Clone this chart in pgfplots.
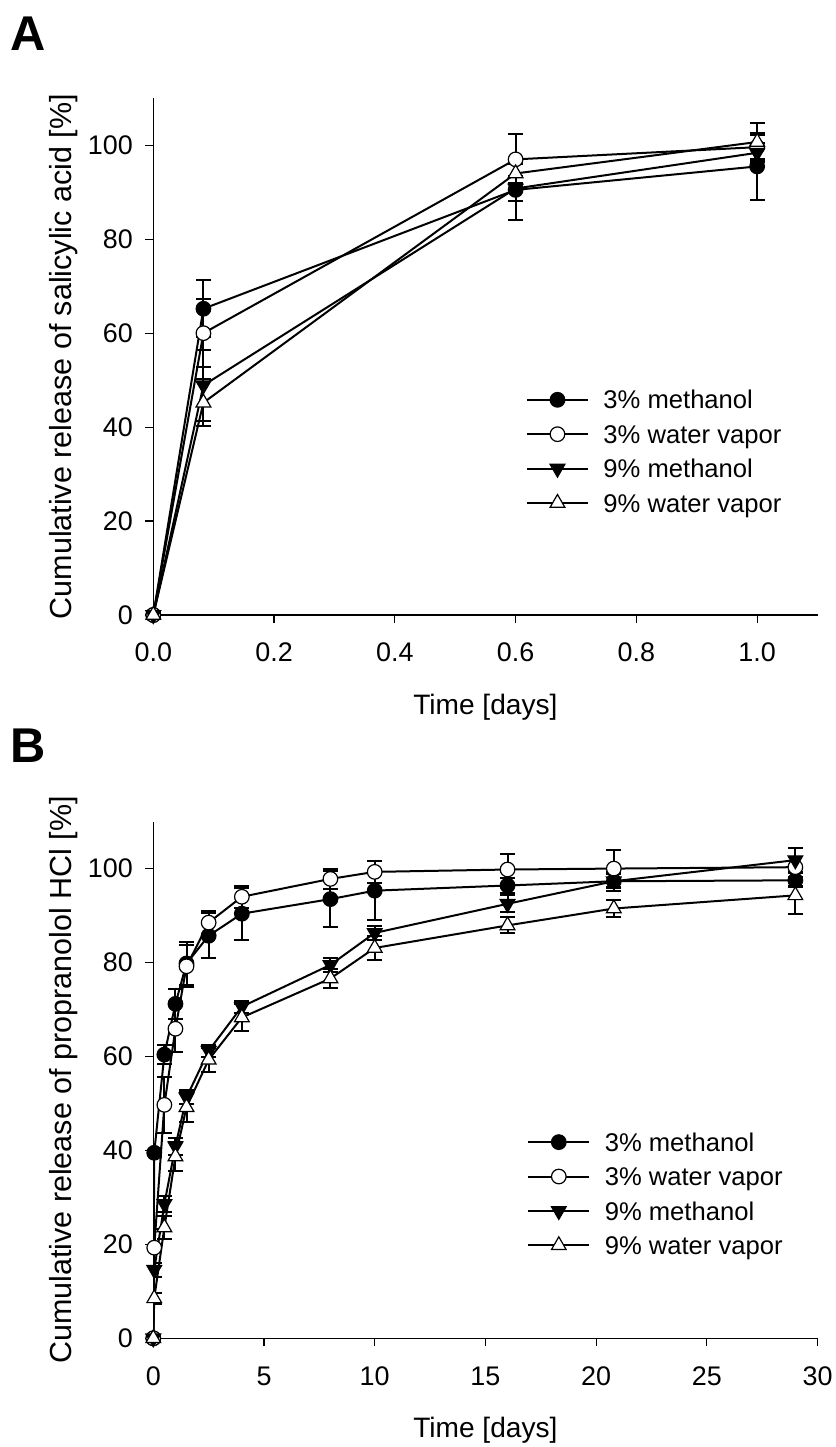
\documentclass[border=0pt]{standalone}
\usepackage{fontspec}
\setmainfont{Liberation Sans}
\usepackage{pgfplots}
\pgfplotsset{compat=1.18}
\pgfplotsset{
  panel/.style={
    scale only axis, width=664.2bp, height=516.7bp,
    ymin=0, ymax=110, xmin=0,
    axis x line*=bottom, axis y line*=left,
    axis line style={line width=1.2bp, black},
    tick align=outside, major tick length=8bp,
    every tick/.style={line width=1.2bp, black},
    ytick={0,20,40,60,80,100},
    tick label style={font=\fontsize{27}{32}\selectfont, inner sep=0pt},
    xticklabel style={yshift=-20bp},
    yticklabel style={xshift=-12.3bp},
    /pgf/number format/assume math mode=true,
    xlabel style={font=\fontsize{28.2}{33}\selectfont, at={(axis description cs:0.5,-0.178)}, anchor=center},
    ylabel style={font=\fontsize{30.6}{36}\selectfont, at={(axis description cs:-0.1344,0.5)}, anchor=center},
    legend cell align=left,
    legend image code/.code={\draw[mark repeat=2,mark phase=2] plot coordinates {(0bp,0bp)(30.5bp,0bp)(61bp,0bp)};},
    legend style={draw=none, fill=none, inner sep=0pt, outer sep=0pt, row sep=0pt,
      font=\fontsize{25.7}{30}\selectfont,
      nodes={inner sep=0pt, text height=26.4bp, text depth=8.0bp},
      /tikz/every odd column/.append style={column sep=14.5bp}},
    every axis plot/.append style={black, line width=2bp},
    error bars/y dir=both, error bars/y explicit,
    error bars/error mark=-,
    error bars/error bar style={line width=2bp, solid},
    error bars/error mark options={rotate=90, line width=2bp, mark size=7.5bp, solid},
  },
  s1/.style={mark=*, mark size=7.3bp, mark options={solid, draw=black, fill=black, line width=1.2bp}},
  s2/.style={mark=*, mark size=7.3bp, mark options={solid, draw=black, fill=white, line width=1.2bp}},
  s3/.style={mark=triangle*, mark size=8.5bp, mark options={solid, rotate=180, draw=black, fill=black, line width=1.2bp}},
  s4/.style={mark=triangle*, mark size=8.5bp, mark options={solid, draw=black, fill=white, line width=1.2bp}},
}
\begin{document}
\begin{tikzpicture}
\useasboundingbox (0,0) rectangle (836bp,-1447bp);
\node[anchor=base west, inner sep=0pt, font=\fontsize{49}{55}\selectfont\bfseries] at (10bp,-50bp) {A};
\node[anchor=base west, inner sep=0pt, font=\fontsize{49}{55}\selectfont\bfseries] at (10bp,-762bp) {B};
% Panel A
\begin{axis}[panel, at={(153.3bp,-615bp)}, anchor=south west,
  xmax=1.1, xtick={0,0.2,0.4,0.6,0.8,1.0},
  xticklabel style={/pgf/number format/fixed, /pgf/number format/fixed zerofill, /pgf/number format/precision=1},
  xlabel={Time [days]}, ylabel={Cumulative release of salicylic acid [\%]},
  legend style={at={(axis description cs:0.5611,0.4498)}, anchor=north west}]
\addplot[s1] coordinates {(0,0)+-(0,0) (0.083,65.2)+-(0,6.1) (0.6,90.5)+-(0,6.5) (1.0,95.5)+-(0,7.2)};
\addplot[s2] coordinates {(0,0)+-(0,0) (0.083,60.0)+-(0,7.3) (0.6,97.0)+-(0,5.3) (1.0,99.6)+-(0,2.5)};
\addplot[s3] coordinates {(0,0)+-(0,0) (0.083,48.9)+-(0,7.5) (0.6,90.8)+-(0,2.7) (1.0,98.4)+-(0,2.0)};
\addplot[s4] coordinates {(0,0)+-(0,0) (0.083,45.2)+-(0,5.0) (0.6,94.0)+-(0,2.0) (1.0,100.7)+-(0,4.0)};
\legend{3\% methanol, 3\% water vapor, 9\% methanol, 9\% water vapor}
\end{axis}
% Panel B
\begin{axis}[panel, at={(153.3bp,-1338.3bp)}, anchor=south west,
  xmax=30, xtick={0,5,10,15,20,25,30},
  xlabel={Time [days]}, ylabel={Cumulative release of propranolol HCl [\%]},
  legend style={at={(axis description cs:0.5631,0.4130)}, anchor=north west}]
\addplot[s1] coordinates {(0,0)+-(0,0) (0.042,39.5)+-(0,1.0) (0.5,60.4)+-(0,2.0) (1,71.2)+-(0,3.2) (1.5,79.8)+-(0,4.5) (2.5,85.7)+-(0,4.8) (4,90.4)+-(0,5.5) (8,93.5)+-(0,6.0) (10,95.3)+-(0,6.3) (16,96.4)+-(0,1.5) (20.8,97.3)+-(0,1.5) (29,97.5)+-(0,1.5)};
\addplot[s2] coordinates {(0,0)+-(0,0) (0.042,19.3)+-(0,3.9) (0.5,49.7)+-(0,6.0) (1,65.9)+-(0,5.0) (1.5,79.2)+-(0,4.5) (2.5,88.5)+-(0,2.5) (4,94.0)+-(0,2.3) (8,97.8)+-(0,2.2) (10,99.3)+-(0,2.3) (16,99.8)+-(0,3.2) (20.8,100.0)+-(0,4.0) (29,100.3)+-(0,4.0)};
\addplot[s3] coordinates {(0,0)+-(0,0) (0.042,14.6)+-(0,1.5) (0.5,28.6)+-(0,1.8) (1,40.9)+-(0,1.8) (1.5,51.3)+-(0,1.5) (2.5,61.2)+-(0,1.3) (4,70.6)+-(0,1.3) (8,79.5)+-(0,1.5) (10,86.3)+-(0,1.5) (16,92.5)+-(0,1.8) (20.8,97.3)+-(0,2.0) (29,101.8)+-(0,2.6)};
\addplot[s4] coordinates {(0,0)+-(0,0) (0.042,8.5)+-(0,1.2) (0.5,23.6)+-(0,2.5) (1,38.7)+-(0,3.0) (1.5,49.2)+-(0,3.2) (2.5,59.3)+-(0,2.5) (4,68.3)+-(0,2.8) (8,76.6)+-(0,2.0) (10,83.1)+-(0,2.5) (16,87.9)+-(0,1.7) (20.8,91.5)+-(0,1.8) (29,94.3)+-(0,4.0)};
\legend{3\% methanol, 3\% water vapor, 9\% methanol, 9\% water vapor}
\end{axis}
\end{tikzpicture}
\end{document}
